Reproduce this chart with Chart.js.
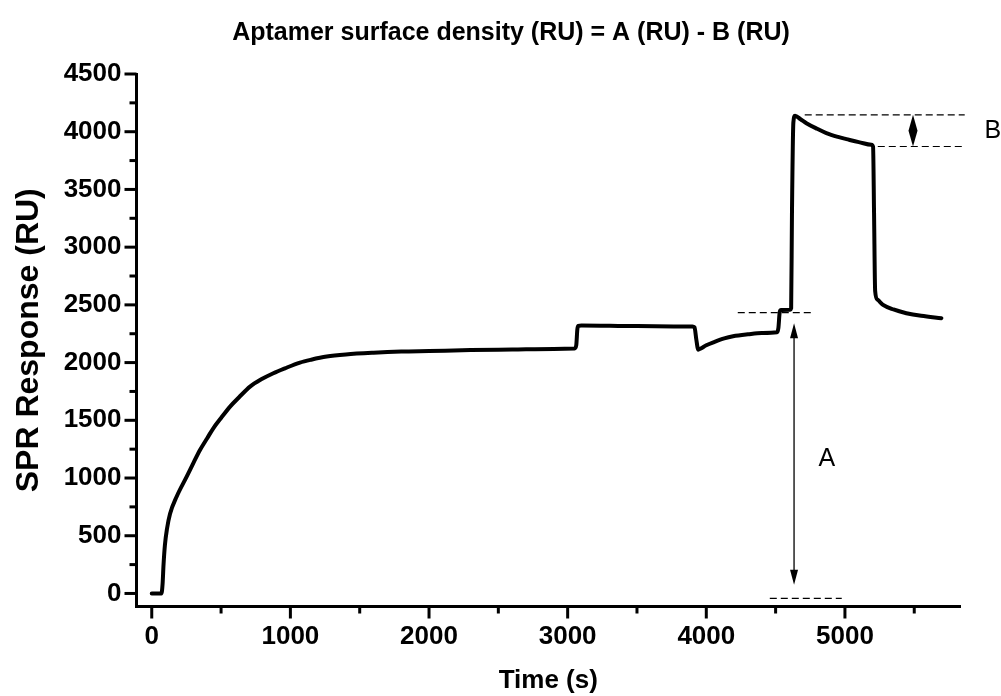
<!DOCTYPE html>
<html><head><meta charset="utf-8">
<script src="https://cdn.jsdelivr.net/npm/chart.js@4.4.0/dist/chart.umd.min.js"></script>
<style>html,body{margin:0;padding:0;background:#fff;} canvas{display:block;}</style>
</head><body>
<canvas id="c" width="1001" height="696"></canvas>
<script>
// ---- data ----
const timeS = [0, 70, 78, 85, 95, 110, 132, 180, 252, 300,
  348, 400, 444, 500, 565, 630, 709, 790, 877, 960,
  1069, 1150, 1262, 1400, 1600, 1800, 2000, 2300, 2600, 2900,
  3050, 3062, 3070, 3078, 3100, 3500, 3900, 3915, 3928, 3942,
  3960, 4000, 4060, 4130, 4193, 4300, 4400, 4510, 4520, 4530,
  4540, 4605, 4612, 4618, 4628, 4640, 4680, 4722, 4800, 4866,
  4950, 5011, 5100, 5191, 5203, 5210, 5218, 5235, 5275, 5350,
  5443, 5550, 5696];
const responseRU = [0, 0, 80, 250, 420, 560, 690, 840, 1012, 1130,
  1243, 1345, 1431, 1520, 1619, 1700, 1792, 1855, 1908, 1950,
  2000, 2025, 2052, 2070, 2085, 2095, 2100, 2108, 2113, 2118,
  2122, 2150, 2290, 2318, 2322, 2316, 2312, 2305, 2200, 2112,
  2122, 2150, 2180, 2210, 2228, 2245, 2256, 2262, 2300, 2440,
  2455, 2458, 2470, 3300, 4080, 4138, 4108, 4074, 4025, 3988,
  3955, 3936, 3910, 3887, 3870, 3300, 2620, 2545, 2500, 2460,
  2428, 2405, 2385];

// tick positions (labels only on the major ones)
const xTicks = [0, 500, 1000, 1500, 2000, 2500, 3000, 3500, 4000, 4500, 5000, 5500];
const xTickLabels = ['0', '', '1000', '', '2000', '', '3000', '', '4000', '', '5000', ''];
const yTicks = [0, 250, 500, 750, 1000, 1250, 1500, 1750, 2000, 2250, 2500, 2750, 3000, 3250, 3500, 3750, 4000, 4250, 4500];
const yTickLabels = ['0', '', '500', '', '1000', '', '1500', '', '2000', '', '2500', '', '3000', '', '3500', '', '4000', '', '4500'];

const titleText = 'Aptamer surface density (RU) = A (RU) - B (RU)';
const xTitleText = 'Time (s)';
const yTitleText = 'SPR Response (RU)';

// annotation guides (data units)
const dashY = [2433, -42, 4146, 3872];
const dashX0 = [4227, 4458, 4710, 5237];
const dashX1 = [4768, 4977, 5864, 5843];
const arrowX = [4633, 5491];
const arrowY0 = [2340, 4146];
const arrowY1 = [75, 3872];
const labelText = ['A', 'B'];
const labelX = [4869, 6066];
const labelY = [1165, 4008];

const FONT = "'Liberation Sans', Arial, Helvetica, sans-serif";

const decor = {
  id: 'decor',
  afterDraw(chart) {
    const {ctx, chartArea: ca, scales: {x, y}} = chart;
    ctx.save();
    ctx.strokeStyle = '#000';
    ctx.lineWidth = 3;
    x.ticks.forEach((t, i) => {
      const px = x.getPixelForValue(t.value);
      const len = xTickLabels[i] !== '' ? 12 : 7;
      ctx.beginPath(); ctx.moveTo(px, ca.bottom); ctx.lineTo(px, ca.bottom + len); ctx.stroke();
    });
    y.ticks.forEach((t, i) => {
      const py = y.getPixelForValue(t.value);
      const len = yTickLabels[i] !== '' ? 12 : 7;
      ctx.beginPath(); ctx.moveTo(ca.left, py); ctx.lineTo(ca.left - len, py); ctx.stroke();
    });
    // dashed guides
    ctx.lineWidth = 1.2;
    ctx.setLineDash([7, 4]);
    for (let i = 0; i < dashY.length; i++) {
      const py = y.getPixelForValue(dashY[i]);
      ctx.beginPath();
      ctx.moveTo(x.getPixelForValue(dashX0[i]), py);
      ctx.lineTo(x.getPixelForValue(dashX1[i]), py);
      ctx.stroke();
    }
    ctx.setLineDash([]);
    ctx.fillStyle = '#000';
    // arrow A (two arrowheads)
    {
      const px = x.getPixelForValue(arrowX[0]);
      const p0 = y.getPixelForValue(arrowY0[0]);
      const p1 = y.getPixelForValue(arrowY1[0]);
      ctx.lineWidth = 1.3;
      ctx.beginPath(); ctx.moveTo(px, p0 + 10); ctx.lineTo(px, p1 - 10); ctx.stroke();
      ctx.beginPath(); ctx.moveTo(px, p0); ctx.lineTo(px + 4, p0 + 15); ctx.lineTo(px - 4, p0 + 15); ctx.closePath(); ctx.fill();
      ctx.beginPath(); ctx.moveTo(px, p1); ctx.lineTo(px + 4, p1 - 15); ctx.lineTo(px - 4, p1 - 15); ctx.closePath(); ctx.fill();
    }
    // arrow B (short double arrow -> diamond)
    {
      const px = x.getPixelForValue(arrowX[1]);
      const p0 = y.getPixelForValue(arrowY0[1]);
      const p1 = y.getPixelForValue(arrowY1[1]);
      const mid = (p0 + p1) / 2;
      ctx.beginPath(); ctx.moveTo(px, p0); ctx.lineTo(px + 4.5, mid); ctx.lineTo(px, p1); ctx.lineTo(px - 4.5, mid); ctx.closePath(); ctx.fill();
    }
    // labels
    ctx.font = '25px ' + FONT;
    ctx.textAlign = 'center';
    ctx.textBaseline = 'middle';
    for (let i = 0; i < labelText.length; i++) {
      ctx.fillText(labelText[i], x.getPixelForValue(labelX[i]), y.getPixelForValue(labelY[i]));
    }
    ctx.restore();
  }
};

new Chart(document.getElementById('c'), {
  type: 'line',
  data: {
    datasets: [{
      data: timeS.map((t, i) => ({x: t, y: responseRU[i]})),
      borderColor: '#000',
      borderWidth: 4,
      pointRadius: 0,
      cubicInterpolationMode: 'monotone',
      borderJoinStyle: 'round',
      borderCapStyle: 'round',
      fill: false
    }]
  },
  options: {
    responsive: false,
    animation: false,
    layout: {padding: {left: 21, right: 0, top: 0, bottom: 0}},
    plugins: {
      legend: {display: false},
      tooltip: {enabled: false},
      title: {
        display: true,
        text: titleText,
        color: '#000',
        font: {family: FONT, size: 25, weight: 'bold'},
        padding: {top: 18, bottom: 26}
      }
    },
    scales: {
      x: {
        type: 'linear',
        min: -110, max: 5830,
        afterFit: s => { s.height = 89.5; },
        afterBuildTicks: s => { s.ticks = xTicks.map(v => ({value: v})); },
        border: {display: true, color: '#000', width: 3},
        grid: {display: true, drawOnChartArea: false, drawTicks: true, tickLength: 12, tickColor: 'rgba(0,0,0,0)'},
        ticks: {
          autoSkip: false, maxRotation: 0,
          color: '#000', padding: 3,
          font: {family: FONT, size: 26, weight: 'bold'},
          callback: (v, i) => xTickLabels[i]
        },
        title: {display: true, text: xTitleText, color: '#000',
          font: {family: FONT, size: 26, weight: 'bold'}, padding: {top: 0, bottom: 0}}
      },
      y: {
        type: 'linear',
        min: -113, max: 4500,
        afterFit: s => { s.width = 115.5; },
        afterBuildTicks: s => { s.ticks = yTicks.map(v => ({value: v})); },
        border: {display: true, color: '#000', width: 3},
        grid: {display: true, drawOnChartArea: false, drawTicks: true, tickLength: 12, tickColor: 'rgba(0,0,0,0)'},
        ticks: {
          autoSkip: false,
          color: '#000', padding: 3,
          font: {family: FONT, size: 26, weight: 'bold'},
          callback: (v, i) => yTickLabels[i]
        },
        title: {display: true, text: yTitleText, color: '#000',
          font: {family: FONT, size: 32, weight: 'bold'}, padding: {top: -11, bottom: 0}}
      },
      yRight: {
        type: 'linear',
        position: 'right',
        min: 0, max: 1,
        afterFit: s => { s.width = 41; },
        border: {display: false},
        grid: {display: false, drawTicks: false},
        ticks: {display: false}
      }
    }
  },
  plugins: [decor]
});
</script>
</body></html>
